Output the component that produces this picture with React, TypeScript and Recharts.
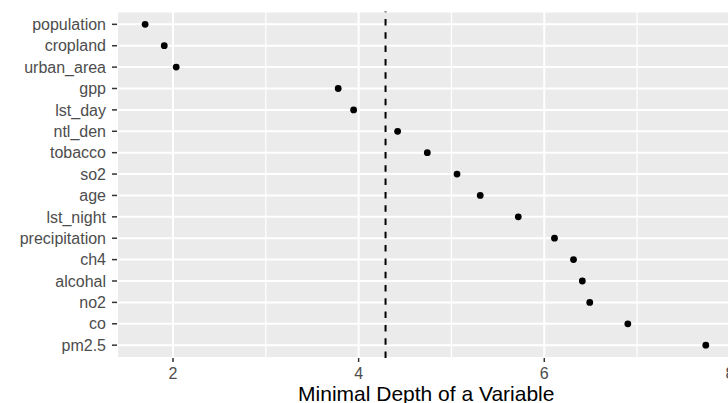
import React from 'react';
import { ScatterChart, Scatter, XAxis, YAxis, CartesianGrid, ReferenceLine } from 'recharts';

const categories = [
  'population', 'cropland', 'urban_area', 'gpp', 'lst_day', 'ntl_den', 'tobacco', 'so2',
  'age', 'lst_night', 'precipitation', 'ch4', 'alcohal', 'no2', 'co', 'pm2.5',
];
const depthValues = [
  1.70, 1.906, 2.035, 3.78, 3.946, 4.42, 4.74, 5.06,
  5.31, 5.72, 6.11, 6.315, 6.41, 6.49, 6.90, 7.74,
];
const xTicks = [2, 4, 6, 8];
const minorTicks = [3, 5, 7];
const meanDepth = 4.29;
const xTitle = 'Minimal Depth of a Variable';

const data = categories.map((name, i) => ({ name, idx: i, depth: depthValues[i] }));
const yTicks = categories.map((_, i) => i);

const FONT = '"Liberation Sans", Arial, sans-serif';

const Dot = (props: any) => <circle cx={props.cx} cy={props.cy} r={3.4} fill="#000" />;

export default function App() {
  return (
    <div style={{ position: 'fixed', left: 0, top: 0, width: 728, height: 403, overflow: 'hidden', background: '#fff' }}>
      <ScatterChart width={736} height={403} margin={{ top: 11.5, right: 0.5, bottom: 0, left: 0 }}>
        <CartesianGrid fill="#EBEBEB" stroke="#FFFFFF" strokeWidth={2} fillOpacity={1} />
        {minorTicks.map((m) => (
          <ReferenceLine key={m} x={m} stroke="#FFFFFF" strokeWidth={1.2} />
        ))}
        <XAxis
          type="number"
          dataKey="depth"
          domain={[1.397, 8.06]}
          ticks={xTicks}
          interval={0}
          allowDataOverflow
          axisLine={false}
          tickSize={4}
          tickMargin={6}
          tickLine={{ stroke: '#333333', strokeWidth: 1.5 }}
          tick={{ fill: '#4D4D4D', fontSize: 16, fontFamily: FONT }}
          height={45}
          label={{ value: xTitle, position: 'insideBottom', offset: 2, fill: '#000', fontSize: 21, fontFamily: FONT }}
        />
        <YAxis
          type="number"
          dataKey="idx"
          domain={[-0.6, 15.6]}
          reversed
          ticks={yTicks}
          interval={0}
          allowDataOverflow
          axisLine={false}
          width={117}
          tickSize={5}
          tickMargin={6}
          tickLine={{ stroke: '#333333', strokeWidth: 1.5 }}
          tick={{ fill: '#4D4D4D', fontSize: 16, fontFamily: FONT }}
          tickFormatter={(v: number) => categories[v] ?? ''}
        />
        <ReferenceLine x={meanDepth} stroke="#000" strokeWidth={2} strokeDasharray="6.5 6.8" />
        <Scatter data={data} shape={Dot} isAnimationActive={false} />
      </ScatterChart>
    </div>
  );
}
